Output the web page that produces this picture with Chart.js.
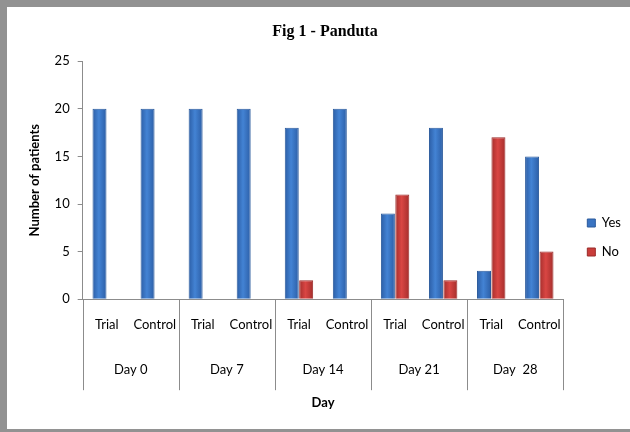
<!DOCTYPE html>
<html>
<head>
<meta charset="utf-8">
<script src="https://cdn.jsdelivr.net/npm/chart.js@4.4.1/dist/chart.umd.min.js"></script>
<style>
    html, body { margin: 0; padding: 0; background: #fff; }
    #wrap { position: relative; width: 630px; height: 432px; }
    #frame {
        position: absolute; left: 0; top: 0; right: 0; bottom: 0;
        border-top: 7px solid #929292;
        border-left: 7px solid #929292;
        border-bottom: 3px solid #929292;
        pointer-events: none;
    }
</style>
</head>
<body>
<div id="wrap">
    <canvas id="chart" width="630" height="432"></canvas>
    <div id="frame"></div>
</div>
<script>
// Chart data
const groups = ['Day 0', 'Day 7', 'Day 14', 'Day 21', 'Day  28'];
const arms = ['Trial', 'Control', 'Trial', 'Control', 'Trial', 'Control', 'Trial', 'Control', 'Trial', 'Control'];
const yesCounts = [20, 20, 20, 20, 18, 20, 9, 18, 3, 15];
const noCounts = [0, 0, 0, 0, 2, 0, 11, 2, 17, 5];
const yTicks = [0, 5, 10, 15, 20, 25];

const font = 'Lato, "Open Sans", sans-serif';
const axisGray = '#8c8c8c';

// Excel 2007 style shading: darker edges, lighter middle
function barFill(edge, mid) {
    return function(context) {
        const el = context.element;
        if (!el || el.x === undefined || el.width === undefined) return mid;
        const g = context.chart.ctx.createLinearGradient(el.x - el.width / 2, 0, el.x + el.width / 2, 0);
        g.addColorStop(0, edge);
        g.addColorStop(0.45, mid);
        g.addColorStop(1, edge);
        return g;
    };
}

// Vertical separators between the day groups, from the axis line down under the labels
const groupDividers = {
    id: 'groupDividers',
    afterDraw(chart) {
        const x = chart.scales.x;
        const ctx = chart.ctx;
        const step = x.width / groups.length;
        ctx.save();
        ctx.strokeStyle = axisGray;
        ctx.lineWidth = 1;
        for (let i = 0; i <= groups.length; i++) {
            const px = Math.round(x.left + i * step) + 0.5;
            ctx.beginPath();
            ctx.moveTo(px, x.top);
            ctx.lineTo(px, x.top + 91);
            ctx.stroke();
        }
        ctx.restore();
    }
};

// Move the legend a little to the right and down, as in Excel
const legendShift = {
    id: 'legendShift',
    afterLayout(chart) {
        const lg = chart.legend;
        lg.left += 8;
        lg.right += 8;
        lg.top += 30;
        lg.bottom += 30;
    }
};

const chart = new Chart(document.getElementById('chart'), {
    type: 'bar',
    data: {
        labels: arms,
        datasets: [
            {
                label: 'Yes',
                data: yesCounts,
                backgroundColor: barFill('#2c5ea6', '#4383d4'),
                borderColor: '#2a5a9c',
                borderWidth: 1,
                categoryPercentage: 0.6,
                barPercentage: 0.97
            },
            {
                label: 'No',
                data: noCounts,
                backgroundColor: barFill('#a52e2c', '#d94643'),
                borderColor: '#9a2b29',
                borderWidth: 1,
                categoryPercentage: 0.6,
                barPercentage: 0.97
            }
        ]
    },
    options: {
        responsive: false,
        animation: false,
        layout: { padding: { left: 27, right: 7, top: 0, bottom: 17 } },
        plugins: {
            title: {
                display: true,
                text: 'Fig 1 - Panduta',
                color: '#000',
                font: { family: '"Liberation Serif", serif', size: 16, weight: 'bold' },
                padding: { top: 22, bottom: 20 }
            },
            legend: {
                position: 'right',
                labels: {
                    boxWidth: 8,
                    boxHeight: 8,
                    padding: 16,
                    color: '#000',
                    font: { family: font, size: 13 },
                    generateLabels(c) {
                        const items = Chart.defaults.plugins.legend.labels.generateLabels(c);
                        const solid = ['#3a74c2', '#c93d3a'];
                        items.forEach((it, i) => { it.fillStyle = solid[i]; });
                        return items;
                    }
                }
            },
            tooltip: { enabled: false }
        },
        scales: {
            x: {
                grid: { display: false, drawTicks: false },
                border: { display: true, color: axisGray },
                ticks: {
                    color: '#000',
                    padding: 18,
                    maxRotation: 0,
                    autoSkip: false,
                    font: { family: font, size: 13 }
                }
            },
            x2: {
                type: 'category',
                labels: groups,
                position: 'bottom',
                grid: { display: false, drawTicks: false },
                border: { display: false },
                ticks: {
                    color: '#000',
                    padding: 11.6,
                    maxRotation: 0,
                    font: { family: font, size: 13 }
                },
                title: {
                    display: true,
                    text: 'Day',
                    color: '#000',
                    font: { family: font, size: 13, weight: 'bold' },
                    padding: { top: 5.8, bottom: 4 }
                }
            },
            y: {
                min: 0,
                max: 25,
                afterBuildTicks(scale) {
                    scale.ticks = yTicks.map(v => ({ value: v }));
                },
                grid: {
                    drawOnChartArea: false,
                    tickLength: 5,
                    color: axisGray
                },
                border: { display: true, color: axisGray },
                ticks: {
                    color: '#000',
                    padding: 8,
                    font: { family: font, size: 13 }
                },
                title: {
                    display: true,
                    text: 'Number of patients',
                    color: '#000',
                    font: { family: font, size: 13, weight: 'bold' },
                    padding: { top: 0, bottom: 4 }
                }
            }
        }
    },
    plugins: [groupDividers, legendShift]
});

// second pass so the gradients can use the bar positions
chart.update();
</script>
</body>
</html>
